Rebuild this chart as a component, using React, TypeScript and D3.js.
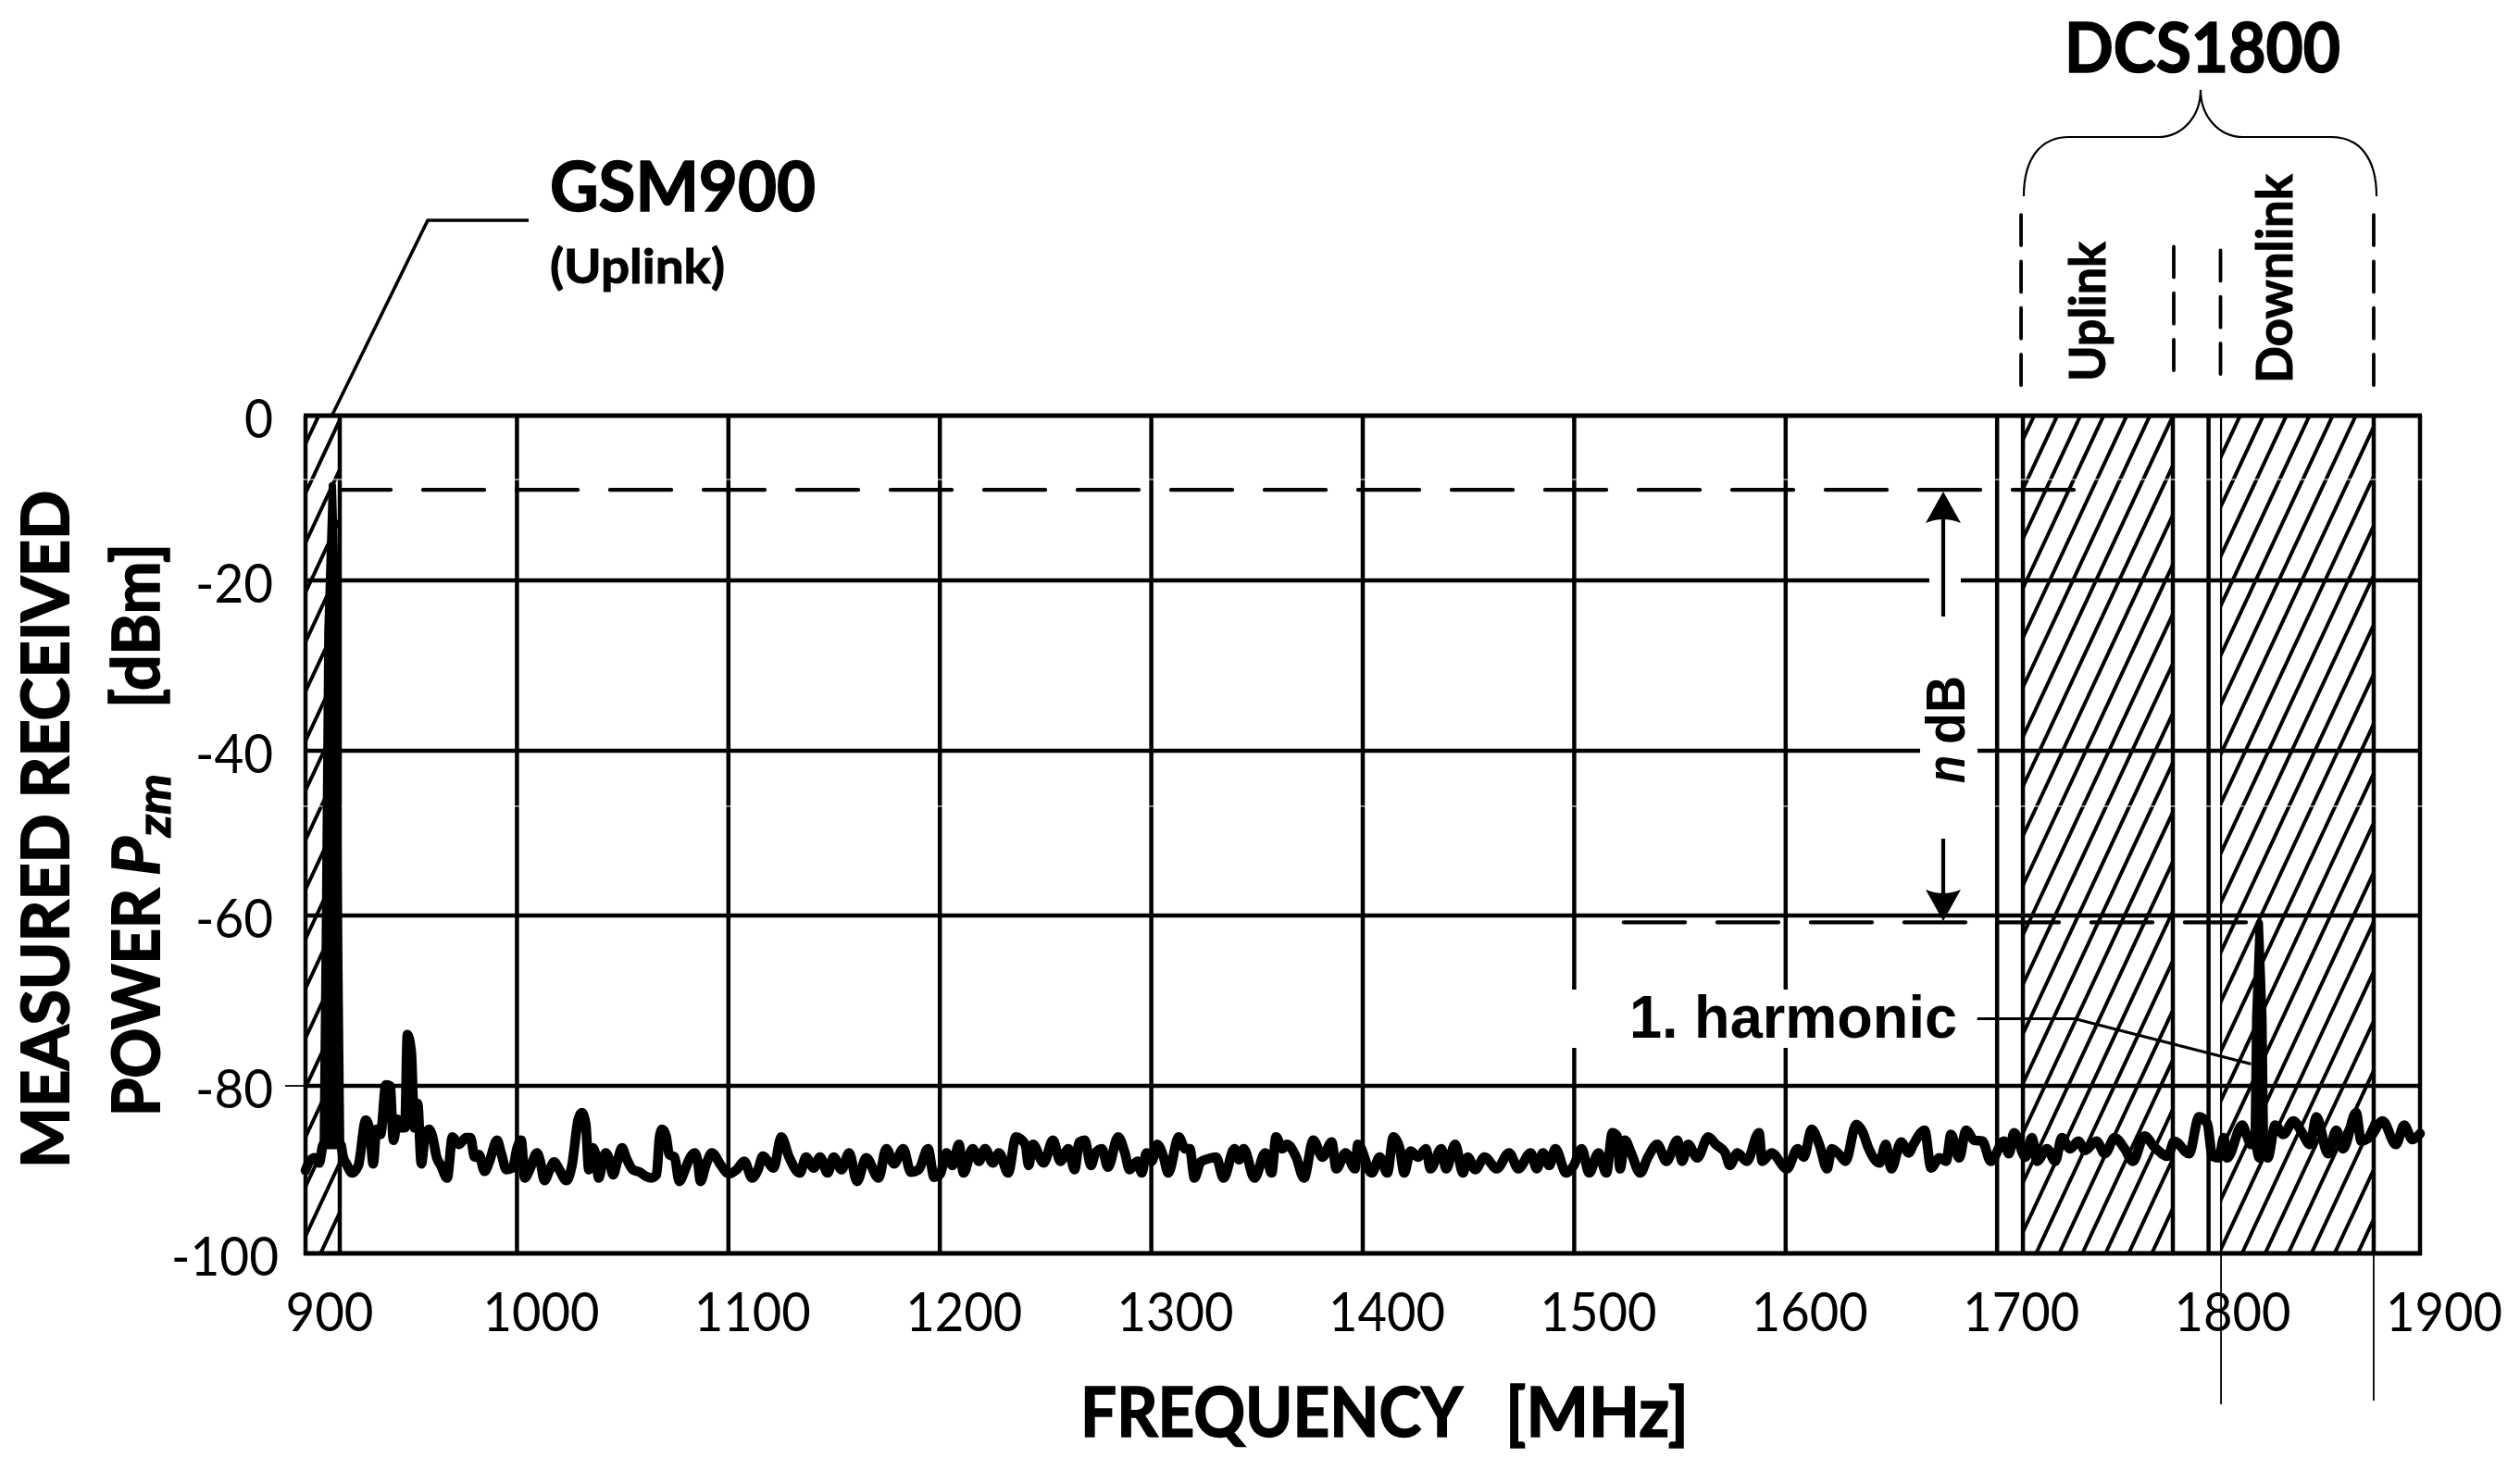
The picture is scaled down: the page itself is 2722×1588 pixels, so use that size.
import React from "react";
import * as d3 from "d3";

type P = [number, number];

const xTicks = [900, 1000, 1100, 1200, 1300, 1400, 1500, 1600, 1700, 1800, 1900];
const yTicks = [0, -20, -40, -60, -80, -100];
const yPixels = [449, 627, 811, 989, 1173, 1354];

const carrierLevel = -9;
const harmonicLevel = -60.8;

const gsmBand = [900.9, 916.2];
const dcsUplink = [1712.2, 1783.1];
const dcsDownlink = [1805.9, 1878.1];

const gsmSpike: P[] = [[908.4, -87], [909.4, -62], [910.6, -26], [912.7, -8.5], [914.6, -26], [915.6, -62], [916.6, -87]];
const harmonicSpike: P[] = [[1821.6, -86], [1822.3, -72], [1823.2, -66], [1824, -60.9], [1824.8, -66], [1825.7, -72], [1826.4, -86]];

const traceGsm: P[] = [
  [900, -90.1], [902, -89.0], [904.4, -88.6], [906.5, -89.2], [908.4, -87], [912.7, -87], [916.6, -87], [917.8, -88.5], [919.5, -89.4], [922, -90.4], [925, -89.5], [928.5, -84.1], [930.5, -85.5], [932, -89.3],
  [933.6, -85.2], [935.5, -85.8], [938, -79.9], [940, -80], [941.6, -86.5], [943.5, -84], [945, -85], [947, -85], [948.2, -74],
  [950, -76], [951.5, -85], [953, -82.1], [954.8, -89.3], [956.5, -86], [958.4, -85.2], [960, -86], [962, -88.5], [964, -89.5],
  [967, -91], [969.5, -86.1], [972.5, -87], [976, -86.2], [978, -86.2], [980, -88.5], [982, -88.2], [984.7, -90.2], [987, -89],
  [990.6, -86.5], [992.5, -88], [995, -90], [998, -89.8], [1000, -87.5], [1002, -86.5], [1003.7, -91], [1006, -90], [1009.5, -88],
  [1011, -89], [1013, -91.3], [1015.5, -90], [1017.6, -89.1], [1020, -90], [1023.4, -91.3], [1026, -89.5], [1029, -84], [1030.7, -83.2],
  [1032.5, -84.5], [1034, -90], [1035.8, -87.4], [1037, -88], [1038.7, -91], [1040.5, -89], [1042, -88], [1043.5, -88.7], [1045.5, -90.6],
  [1047.5, -89], [1049.7, -87.4], [1051.5, -88.5], [1054.8, -90], [1058, -90.3], [1061, -90.8], [1063.6, -91], [1066, -90.6], [1067.5, -86],
  [1068.7, -85.2], [1070.5, -86], [1072, -88.2], [1074.5, -88.5], [1076.8, -91.4], [1079.5, -90], [1082, -88.5], [1084, -88], [1085.5, -89],
];

const traceMidA: P[] = [
  [1086.8, -91.4], [1089.3, -89.5], [1092.2, -88], [1096.5, -89.5], [1100.2, -90.5], [1103.9, -90], [1107.5, -89], [1111.2, -91], [1114, -90],
  [1116.3, -88.4], [1121.4, -89.8], [1125, -86.1], [1128.7, -88.5], [1133.8, -90.4], [1136.7, -88.5], [1140.4, -89.8], [1143.3, -88.5],
  [1146.9, -90.4], [1149.8, -88.5], [1153.5, -90], [1157.1, -88], [1160.8, -91.4], [1165.2, -88.6], [1171, -91], [1174.7, -87.5],
  [1178.3, -89.3], [1182.7, -87.5], [1186.3, -90.3], [1190, -90], [1194.4, -87.5], [1197.3, -90.9], [1200.2, -90.5], [1203.1, -88],
  [1206, -89.5], [1209, -87], [1211.2, -90.4], [1215.5, -87.5], [1218.5, -89], [1221.4, -87.5], [1225, -89.2], [1228, -88], [1232.3, -90.4],
  [1236, -86.1], [1240.4, -87], [1242, -89.5], [1244, -87], [1249.1, -89.2], [1253.5, -86.5], [1257, -89], [1260.8, -87.5], [1263.7, -90],
  [1266, -86.7],
];

const traceMidB: P[] = [
  [1268.5, -86.5], [1271.5, -89.5], [1273.6, -88], [1276.6, -87.5], [1279.5, -89.7], [1284.3, -86.1], [1287.5, -88], [1289.7, -90], [1293.4, -89],
  [1295.5, -90.4], [1297.7, -88], [1300.2, -89], [1302.8, -87], [1305.8, -88.5], [1308, -90.4], [1313, -86.1], [1316, -87.5], [1318.2, -87.5],
  [1320.4, -91], [1323.3, -89.1], [1327, -88.7], [1330.6, -88.5], [1334.2, -91], [1339.3, -87.5], [1341.5, -88.8], [1343.7, -87.5], [1348.8, -91],
  [1353.9, -88], [1356.9, -90.4], [1359, -86.1], [1362, -87.5], [1364.2, -87], [1368.5, -88.5], [1372.2, -91], [1376.6, -86.5], [1381, -88.5],
  [1385.3, -86.7], [1387.5, -89.9], [1391.9, -88], [1396.3, -89.9], [1397.7, -87], [1404.3, -90.4], [1408, -88.5], [1411.6, -90.4], [1414.5, -86.1],
  [1417.5, -87.5], [1419.6, -90.4], [1422.6, -87.8], [1426.2, -88.5], [1429.9, -87.5], [1432, -89.9], [1437.2, -87.5], [1439.4, -89.9],
  [1443.7, -87], [1447.4, -90.4], [1449.6, -88.5], [1453.2, -90], [1457.6, -88.5], [1463.4, -89.9],
];

const traceMidC: P[] = [
  [1469.2, -88], [1473.6, -89.9], [1479.4, -88], [1482.3, -89.9], [1485.2, -88], [1488.2, -89.5], [1491.1, -87.5], [1496.2, -90.4], [1499.8, -89.5],
  [1503.5, -87.5], [1507.1, -90.4], [1511.5, -88], [1515.2, -90.4], [1518.1, -85.6], [1520.3, -86], [1521.7, -89.9], [1524, -86.5], [1526.9, -88],
  [1531.2, -90.4], [1534.9, -88.5], [1539.3, -87], [1543.6, -89], [1548.8, -86.5], [1551, -89], [1553.9, -87], [1558.2, -88.6], [1563.4, -86.1],
  [1567, -87], [1571.4, -88], [1573.6, -89.5], [1577.2, -88], [1581.6, -89], [1587.4, -85.6], [1588.9, -89], [1593.3, -88], [1600.6, -89.9],
  [1605.7, -87.5], [1608.6, -88.5], [1612.3, -85.2], [1615.9, -87], [1619.6, -89.9], [1621.8, -87.5], [1625.4, -88.2], [1628.3, -89],
  [1633.4, -84.6], [1636.4, -85.5], [1639.3, -87.5], [1644.4, -89.2], [1647.3, -87], [1650, -89.9], [1654.6, -86.7], [1658.2, -88], [1660.4, -87],
];

const traceDcs: P[] = [
  [1665.7, -85.3], [1668.8, -89.8], [1672.7, -88.6], [1675.9, -89], [1678.2, -85.8], [1682.1, -88.6], [1685.3, -85.3], [1689.2, -86.5], [1693, -86.6],
  [1697, -89], [1703.2, -86.6], [1705.6, -88.1], [1708, -85.6], [1713.4, -88.5], [1716.5, -86.2], [1718.9, -89], [1723.6, -87.5], [1727.5, -89],
  [1730.6, -86.2], [1734.5, -87.5], [1738.4, -86.6], [1741.6, -87.7], [1747, -86.6], [1751, -88.1], [1755.6, -86.2], [1760.3, -87.5], [1764.2, -89],
  [1769.7, -86], [1774.4, -87.3], [1780.7, -88.4], [1783.8, -86.6], [1790.8, -88.1], [1795.5, -83.7], [1799.4, -84.5], [1801.8, -88.4], [1804.9, -88.6],
  [1807.2, -86.2], [1808.8, -88.6], [1815.9, -84.7], [1818.2, -86], [1820, -87], [1821.6, -86], [1824, -88.6], [1826.4, -86],
  [1828, -88.6], [1831.5, -84.7], [1835.4, -85.8], [1840.1, -84.2], [1844, -85.5], [1847.9, -87], [1851, -83.7], [1856.5, -88.1], [1860.4, -85.3],
  [1863.6, -87.5], [1869.8, -83.2], [1872.2, -86.6], [1876.8, -86], [1882.3, -84.2], [1888.6, -87], [1892.5, -84.7], [1896.4, -86.4], [1900, -85.7],
];

const trace: P[] = [...traceGsm, ...traceMidA, ...traceMidB, ...traceMidC, ...traceDcs];

const W = 2722;
const H = 1588;
const calibri = "Lato, 'Noto Sans', sans-serif";
const arial = "'Liberation Sans', Arial, sans-serif";

const x = d3.scaleLinear().domain([900, 1900]).range([330, 2614]);
const y = d3.scaleLinear().domain(yTicks).range(yPixels);
const line = d3.line<P>().x((d) => x(d[0])).y((d) => y(d[1])).curve(d3.curveMonotoneX);
const spikeLine = d3.line<P>().x((d) => x(d[0])).y((d) => y(d[1]));
const top = y(0);
const bottom = y(-100);
const left = x(900);
const right = x(1900);

const HATCH_SLOPE = 2.14;
const HATCH_STEP = 53.5;

function Hatch({ id, band, phase }: { id: string; band: number[]; phase: number }) {
  const x0 = x(band[0]);
  const x1 = x(band[1]);
  const rows = d3.range(Math.floor((top - phase) / HATCH_STEP) - 1, Math.ceil((bottom + (x1 - x0) * HATCH_SLOPE - phase) / HATCH_STEP) + 1);
  return (
    <g>
      <clipPath id={id}>
        <rect x={x0} y={top} width={x1 - x0} height={bottom - top} />
      </clipPath>
      <g clipPath={`url(#${id})`} stroke="#000" strokeWidth={4}>
        {rows.map((k) => {
          const yk = phase + k * HATCH_STEP;
          return <line key={k} x1={x0 - 10} y1={yk + 10 * HATCH_SLOPE} x2={x1 + 10} y2={yk - (x1 - x0 + 10) * HATCH_SLOPE} />;
        })}
      </g>
    </g>
  );
}

function T(props: { x: number; y: number; len?: number; size: number; bold?: boolean; italic?: boolean; font?: string; anchor?: string; rot?: boolean; heavy?: number; children: React.ReactNode }) {
  const { x: px, y: py, len, size, bold, italic, font, anchor, rot, heavy, children } = props;
  return (
    <text
      x={px}
      y={py}
      fontFamily={font ?? calibri}
      fontSize={size}
      fontWeight={bold ? 700 : 400}
      fontStyle={italic ? "italic" : "normal"}
      textAnchor={anchor ?? "start"}
      textLength={len}
      lengthAdjust={len ? "spacingAndGlyphs" : undefined}
      transform={rot ? `rotate(-90 ${px} ${py})` : undefined}
      fill="#000"
      stroke={heavy ? "#000" : undefined}
      strokeWidth={heavy}
    >
      {children}
    </text>
  );
}

export default function App() {
  const bracePath = "M2186,212 C2186,170 2205,148 2235,148 L2331,148 C2358,148 2377,125 2377,97 C2377,125 2396,148 2423,148 L2518,148 C2548,148 2567,170 2567,212";
  return (
    <svg width={W} height={H} viewBox={`0 0 ${W} ${H}`} style={{ position: "absolute", left: 0, top: 0, display: "block", background: "#fff" }}>
      {/* hatch */}
      <Hatch id="h-gsm" band={gsmBand} phase={475} />
      <Hatch id="h-up" band={dcsUplink} phase={475} />
      <Hatch id="h-down" band={dcsDownlink} phase={493} />

      {/* grid */}
      {yTicks.map((t) => (
        <line key={t} x1={left - 2} x2={right + 2} y1={y(t)} y2={y(t)} stroke="#000" strokeWidth={t === 0 || t === -100 ? 5 : 4.5} />
      ))}
      {xTicks.map((t) => (
        <line key={t} x1={x(t)} x2={x(t)} y1={top} y2={bottom + 2} stroke="#000" strokeWidth={4.5} />
      ))}
      {/* band edges */}
      {[gsmBand[1], dcsUplink[0], dcsUplink[1], dcsDownlink[1]].map((f) => (
        <line key={f} x1={x(f)} x2={x(f)} y1={top} y2={bottom + 2} stroke="#000" strokeWidth={4.5} />
      ))}
      <line x1={x(dcsDownlink[0])} x2={x(dcsDownlink[0])} y1={bottom} y2={1517} stroke="#000" strokeWidth={1.8} />
      <line x1={x(dcsDownlink[0])} x2={x(dcsDownlink[0])} y1={top} y2={bottom} stroke="#000" strokeWidth={2.2} />
      <line x1={x(dcsDownlink[1])} x2={x(dcsDownlink[1])} y1={bottom} y2={1513} stroke="#000" strokeWidth={1.8} />
      <line x1={308} x2={left} y1={y(-80)} y2={y(-80)} stroke="#000" strokeWidth={1.8} />

      {/* scan seams */}
      <line x1={left - 4} x2={right + 4} y1={518} y2={518} stroke="#fff" strokeWidth={1.2} />
      <line x1={left - 4} x2={right + 4} y1={871} y2={871} stroke="#fff" strokeWidth={1.2} />

      {/* masks behind annotations */}
      <rect x={2084} y={618} width={34} height={18} fill="#fff" />
      <rect x={2074} y={802} width={62} height={18} fill="#fff" />
      <rect x={1690} y={1069} width={440} height={63} fill="#fff" />

      {/* reference levels */}
      <line x1={2240} x2={367} y1={y(carrierLevel)} y2={y(carrierLevel)} stroke="#000" strokeWidth={4.4} strokeDasharray="66 35" strokeLinecap="round" />
      <line x1={2426} x2={1753} y1={y(harmonicLevel)} y2={y(harmonicLevel)} stroke="#000" strokeWidth={4.4} strokeDasharray="66 35" strokeLinecap="round" />

      {/* n dB arrows */}
      <line x1={2099} x2={2099} y1={560} y2={666} stroke="#000" strokeWidth={4.2} />
      <path d="M2099,531 L2118,565 Q2099,557 2080,565 Z" fill="#000" />
      <line x1={2099} x2={2099} y1={906} y2={965} stroke="#000" strokeWidth={4.2} />
      <path d="M2099,995 L2118,961 Q2099,969 2080,961 Z" fill="#000" />

      {/* leaders */}
      <path d="M571,238 L462,238 L359,448" fill="none" stroke="#000" strokeWidth={3.6} strokeLinejoin="round" />
      <path d="M2137,1100.5 L2241,1100.5 L2430,1149" fill="none" stroke="#000" strokeWidth={3.2} strokeLinejoin="round" strokeLinecap="round" />

      {/* brace and dashed band guides */}
      <path d={bracePath} fill="none" stroke="#000" strokeWidth={2.2} />
      <line x1={x(dcsUplink[0]) - 2} x2={x(dcsUplink[0]) - 2} y1={416} y2={231} stroke="#000" strokeWidth={3.8} strokeDasharray="33 17.3" strokeLinecap="round" />
      <line x1={x(dcsDownlink[1])} x2={x(dcsDownlink[1])} y1={416} y2={231} stroke="#000" strokeWidth={3.8} strokeDasharray="33 17.3" strokeLinecap="round" />
      <line x1={2348} x2={2348} y1={400} y2={266} stroke="#000" strokeWidth={3.8} strokeDasharray="33 17.3" strokeLinecap="round" />
      <line x1={2398.5} x2={2398.5} y1={404} y2={270} stroke="#000" strokeWidth={3.8} strokeDasharray="33 17.3" strokeLinecap="round" />

      {/* trace */}
      <path d={line(trace) ?? ""} fill="none" stroke="#000" strokeWidth={10.5} strokeLinejoin="round" strokeLinecap="round" />
      <path d={spikeLine(gsmSpike) ?? ""} fill="#000" stroke="#000" strokeWidth={8} strokeLinejoin="round" />
      <path d={spikeLine(harmonicSpike) ?? ""} fill="#000" stroke="#000" strokeWidth={8} strokeLinejoin="round" />

      {/* tick labels */}
      {xTicks.map((t) => (
        <T key={t} x={x(t) + 26} y={1438} size={58} anchor="middle" len={t === 900 ? 95 : 126}>{t}</T>
      ))}
      {yTicks.map((t) => {
        const label = String(t);
        return (
          <T key={t} x={t === -100 ? 301 : 295} y={y(t) + 24} size={58} anchor="end" len={t === 0 ? 31 : t === -100 ? 116 : 84}>{label}</T>
        );
      })}

      {/* titles */}
      <T x={1167} y={1552} size={75} bold heavy={1.6} len={413}>FREQUENCY</T>
      <T x={1626} y={1552} size={75} bold heavy={1.6} len={198}>[MHz]</T>
      <T x={73.5} y={1262} size={71} bold heavy={2} rot len={732}>MEASURED RECEIVED</T>
      <T x={172} y={1206} size={71} bold heavy={2} rot len={246}>POWER</T>
      <T x={172} y={946} size={71} bold italic heavy={1.6} rot len={42}>P</T>
      <T x={184} y={904} size={50} bold italic heavy={1.2} rot len={68}>zm</T>
      <T x={172} y={765} size={71} bold heavy={1.6} rot len={178}>[dBm]</T>

      {/* annotations */}
      <T x={594} y={228} size={74} bold heavy={1.6} len={287}>GSM900</T>
      <T x={594} y={306} size={52} bold heavy={1} len={189}>(Uplink)</T>
      <T x={2230} y={78} size={75} bold heavy={1.6} len={298}>DCS1800</T>
      <T x={2274} y={412} size={54} bold heavy={1} rot len={151}>Uplink</T>
      <T x={2476} y={414} size={54} bold heavy={1} rot len={226}>Downlink</T>
      <T x={1760} y={1121} size={64} bold font={arial} len={354}>1. harmonic</T>
      <T x={2122} y={846} size={60} bold font={arial} italic rot len={30}>n</T>
      <T x={2122} y={804} size={60} bold font={arial} rot len={74}>dB</T>
    </svg>
  );
}
